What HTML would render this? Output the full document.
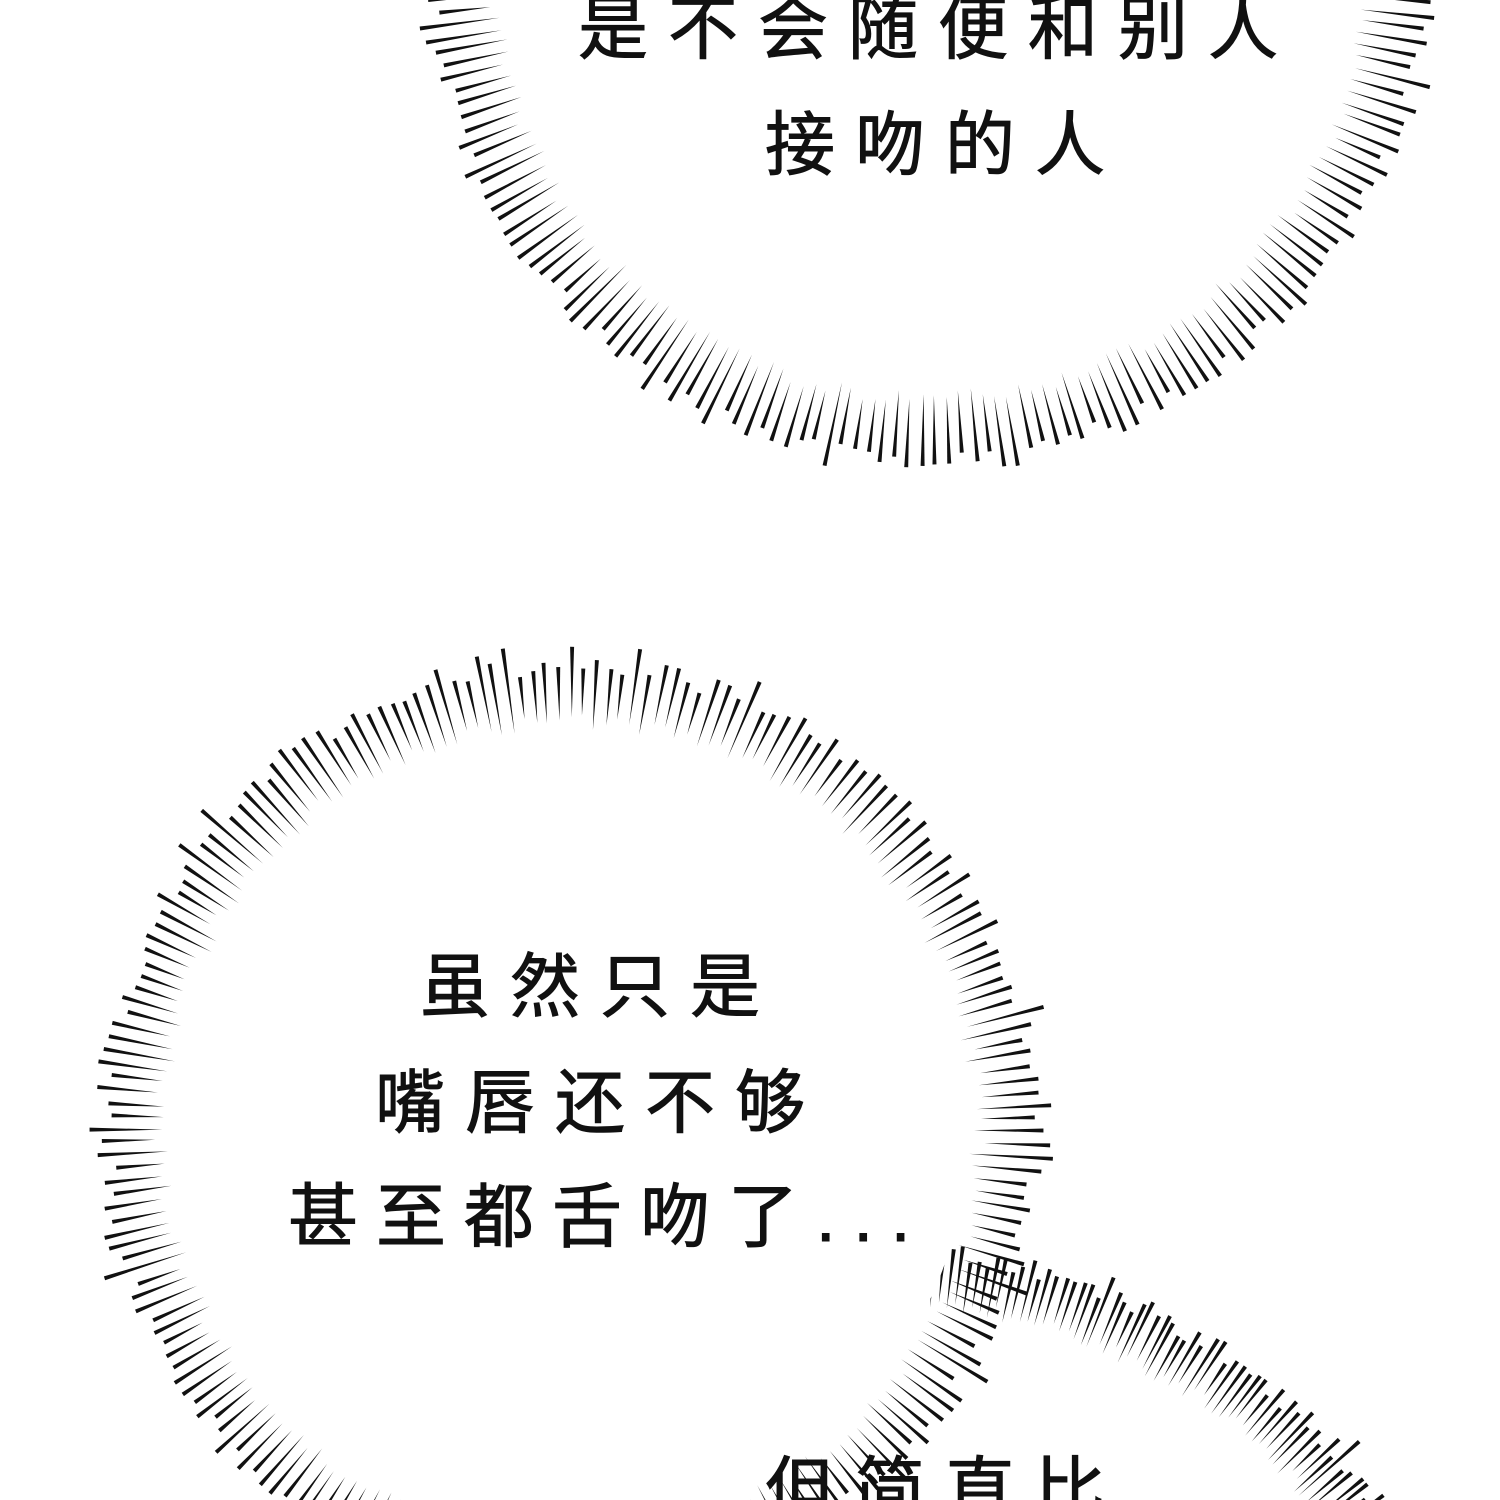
<!DOCTYPE html>
<html><head><meta charset="utf-8"><style>
html,body{margin:0;padding:0;background:#fff;width:1500px;height:1500px;overflow:hidden}
#w{position:absolute;left:0;top:0;width:1500px;height:1500px;overflow:hidden}
svg{position:absolute;left:0;top:0}
.t{position:absolute;font-family:"Liberation Sans","Noto Sans CJK SC",sans-serif;font-size:70px;color:#111;white-space:nowrap;letter-spacing:20px;line-height:70px;-webkit-text-stroke:1px #111}
</style></head><body><div id="w">
<svg id="s" width="1500" height="1500" viewBox="0 0 1500 1500"></svg>
<div class="t" style="left:578px;top:-6px">是不会随便和别人</div>
<div class="t" style="left:765px;top:110px">接吻的人</div>
<div class="t" style="left:420px;top:952px">虽然只是</div>
<div class="t" style="left:375px;top:1068px">嘴唇还不够</div>
<div class="t" style="left:288px;top:1182px;letter-spacing:18px">甚至都舌吻了...</div>
<div class="t" style="left:765px;top:1455px">但简直比</div>
</div>
<script>
var s=document.getElementById('s');
var seed=7;function r(){seed=(seed*16807)%2147483647;return seed/2147483647;}
function ring(cx,cy,ri,ro,n,fill,a0,a1){
  var h='';
  if(a0===undefined){a0=0;a1=Math.PI*2;}
  for(var i=0;i<n;i++){
    var a=a0+i/n*(a1-a0)+r()*0.006;
    var o=ro-r()*20, inn=ri+r()*15;
    if(r()<0.12)o+=15;
    var c=Math.cos(a),sn=Math.sin(a);
    var px=-sn,py=c,w=2;
    var x1=cx+c*inn,y1=cy+sn*inn,x2=cx+c*o,y2=cy+sn*o;
    h+='<polygon points="'+x1+','+y1+' '+(x2+px*w)+','+(y2+py*w)+' '+(x2-px*w)+','+(y2-py*w)+'" fill="#111"/>';
  }
  if(fill) h+='<circle cx="'+cx+'" cy="'+cy+'" r="'+(ri-2)+'" fill="#fff"/>';
  return h;
}
var h='';
var d=Math.PI/180;
h+=ring(880,1870,560,630,60,true,-86*d,-36*d);
h+=ring(570,1130,400,475,220,true);
h+=ring(930,-40,430,510,230,true);
s.innerHTML=h;
</script>
</body></html>
